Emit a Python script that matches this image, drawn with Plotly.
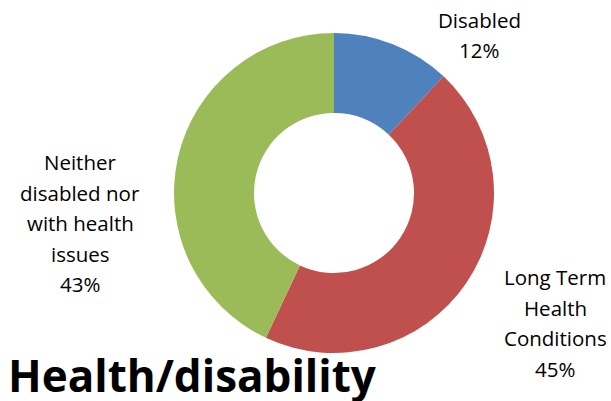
import plotly.graph_objects as go

categories = ["Disabled", "Long Term Health Conditions", "Neither disabled nor with health issues"]
label_lines = [["Disabled"], ["Long Term", "Health", "Conditions"], ["Neither", "disabled nor", "with health", "issues"]]
values = [12, 45, 43]
colors = ["#4F81BD", "#C0504D", "#9BBB59"]
title_text = "Health/disability"

W, H = 611, 401

fig = go.Figure(go.Pie(
    labels=categories,
    values=values,
    hole=0.5,
    sort=False,
    direction="clockwise",
    rotation=0,
    marker=dict(colors=colors, line=dict(color="white", width=0)),
    textinfo="none",
    hoverinfo="label+percent",
    domain=dict(x=[174 / W, 494 / W], y=[1 - 353 / H, 1 - 33 / H]),
    showlegend=False,
))

# label anchor positions (center x, first line y) in pixels
label_pos = [(479, 20), (555, 277), (80, 162)]
line_gap = 30.5
total = sum(values)
annotations = []
for lines, v, (cx, y0) in zip(label_lines, values, label_pos):
    all_lines = lines + [f"{round(100 * v / total)}%"]
    for i, t in enumerate(all_lines):
        y = y0 + i * line_gap
        annotations.append(dict(
            text=t, x=cx / W, y=1 - y / H, xref="paper", yref="paper",
            xanchor="center", yanchor="middle", showarrow=False,
            font=dict(family="Open Sans", size=20.5, color="#000000"),
        ))

annotations.append(dict(
    text=f"<b>{title_text}</b>", x=6 / W, y=1 - 375 / H, xref="paper", yref="paper",
    xanchor="left", yanchor="middle", showarrow=False,
    font=dict(family="Open Sans", size=44, color="#000000"),
))

fig.update_layout(
    width=W, height=H,
    margin=dict(l=0, r=0, t=0, b=0),
    paper_bgcolor="white", plot_bgcolor="white",
    annotations=annotations,
)

fig.write_html("out.html")
